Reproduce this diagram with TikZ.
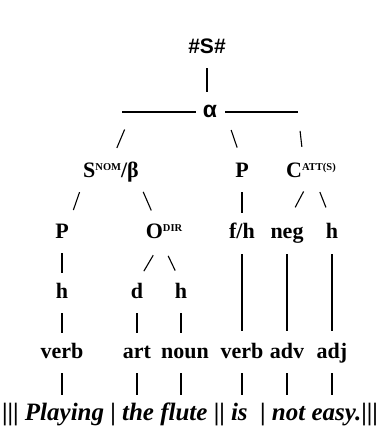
\documentclass[tikz,border=0pt]{standalone}
\usepackage{fontspec}
\setmainfont{Liberation Serif}
\newfontfamily\headsans{Liberation Sans}
\usetikzlibrary{calc}
\newcommand{\supsc}[1]{\raisebox{6.5pt}{\fontsize{10.5}{10.5}\selectfont #1}}

\begin{document}
\begin{tikzpicture}[x=1pt,y=-1pt,
    lbl/.style={font=\bfseries\fontsize{22}{26}\selectfont,inner sep=0pt,
      text height=15pt,text depth=5pt},
    conn/.style={line width=1.1pt,shorten <=10pt,shorten >=10pt},
    tick/.style={line width=1.1pt,shorten <=10.5pt,shorten >=13.5pt}]
  \useasboundingbox (0,0) rectangle (382,429);

  % levels of the tree
  \node[lbl,font=\headsans\bfseries\fontsize{21}{25}\selectfont] (top) at (207,48) {\#S\#};
  \node[lbl,font=\headsans\bfseries\fontsize{23}{27}\selectfont] (alpha) at (210,112) {α};
  \coordinate (lend) at (132,112);
  \coordinate (rstart) at (225,112);
  \coordinate (rend) at (298,112);
  \node[lbl] (snom) at (111,172) {S\supsc{NOM}/β};
  \node[lbl] (pa) at (242,172) {P};
  \node[lbl] (catt) at (311,172) {C\supsc{ATT(S)}};
  \node[lbl] (pb) at (62,233) {P};
  \node[lbl] (odir) at (164,233) {O\supsc{DIR}};
  \node[lbl] (fh) at (242,233) {f/h};
  \node[lbl] (neg) at (287,233) {neg};
  \node[lbl] (hc) at (332,233) {h};
  \node[lbl] (ha) at (62,293) {h};
  \node[lbl] (det) at (137,293) {d};
  \node[lbl] (hb) at (181,293) {h};
  \node[lbl] (verba) at (62,353) {verb};
  \node[lbl] (art) at (137,353) {art};
  \node[lbl] (noun) at (185,353) {noun};
  \node[lbl] (verbb) at (242,353) {verb};
  \node[lbl] (adv) at (287,353) {adv};
  \node[lbl] (adj) at (332,353) {adj};
  \node[lbl,font=\bfseries\fontsize{25}{29}\selectfont] (sent) at (190,415)
    {|||~\textit{Playing} | \textit{the flute} || \textit{is}~ | \textit{not easy.}|||};

  % connectors
  \draw[conn] (top) -- (top |- alpha.north);
  \draw[conn,shorten <=7pt,shorten >=-10pt] (alpha) -- (lend);
  \draw[conn,shorten <=0pt,shorten >=0pt] (rstart) -- (rend);
  \draw[tick,shorten <=19pt,shorten >=15pt] (lend) -- (snom.north);
  \draw[tick,shorten <=19pt,shorten >=15pt] (rstart) -- (pa.north);
  \draw[tick,shorten <=19pt,shorten >=15pt] (rend) -- ($(catt.north west)!.35!(catt.north east)$);

  \draw[tick] (snom.south west) -- (pb.north east);
  \draw[tick] (snom.south east) -- ($(odir.north west)!.3!(odir.north east)$);
  \draw[conn] (pa) -- (fh);
  \draw[tick,shorten >=17.5pt] ($(catt.south west)!.45!(catt.south east)$) -- (neg.north);
  \draw[tick,shorten >=16.5pt] ($(catt.south west)!.6!(catt.south east)$) -- (hc.north);

  \draw[conn] (pb) -- (ha);
  \draw[tick,shorten <=14pt] ($(odir.south west)!.4!(odir.south east)$) -- (det.north);
  \draw[tick,shorten <=14pt] ($(odir.south west)!.45!(odir.south east)$) -- (hb.north);

  \draw[conn,shorten <=11pt,shorten >=12pt] (fh) -- (verbb);
  \draw[conn,shorten <=11pt,shorten >=12pt] (neg) -- (adv);
  \draw[conn,shorten <=11pt,shorten >=12pt] (hc) -- (adj);
  \draw[conn] (ha) -- (verba);
  \draw[conn] (det) -- (art);
  \draw[conn] (hb) -- (hb |- noun.north);

  \draw[conn] (verba) -- (verba |- sent.north);
  \draw[conn] (art) -- (art |- sent.north);
  \draw[conn] (hb |- noun.south) -- (hb |- sent.north);
  \draw[conn] (verbb) -- (verbb |- sent.north);
  \draw[conn] (adv) -- (adv |- sent.north);
  \draw[conn] (adj) -- (adj |- sent.north);
\end{tikzpicture}
\end{document}
